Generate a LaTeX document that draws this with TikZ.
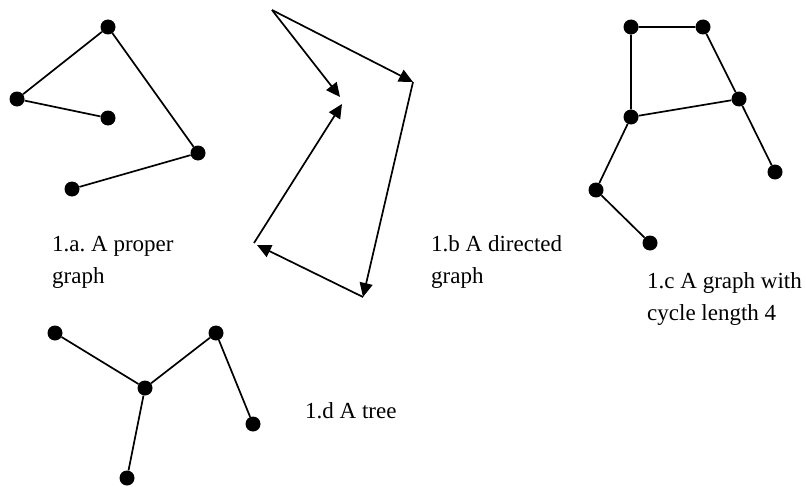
\documentclass[tikz,border=0pt]{standalone}
\usepackage{fontspec}
\setmainfont{Liberation Serif}
\usetikzlibrary{arrows.meta}
\frenchspacing
\begin{document}
\begin{tikzpicture}[x=1pt,y=-1pt,
  dot/.style={circle,fill=black,inner sep=0pt,minimum size=15pt},
  edge/.style={line width=1.7pt},
  arc/.style={line width=1.7pt,-{Triangle[length=14pt,width=13pt]}},
  lbl/.style={anchor=base west,inner sep=0pt,align=left,font=\fontsize{23}{31.5}\selectfont\frenchspacing}]
\useasboundingbox (0,0) rectangle (806,487);
% 1.a
\node[dot] (a1) at (108,27) {};
\node[dot] (a2) at (17,99) {};
\node[dot] (a3) at (108,118) {};
\node[dot] (a4) at (198,153) {};
\node[dot] (a5) at (72,189) {};
\draw[edge] (a1) -- (a2) (a2) -- (a3) (a1) -- (a4) (a4) -- (a5);
\node[lbl] (la) at (52,283) {1.a. A proper\\graph};
% 1.b
\coordinate (bA) at (272,10);
\coordinate (bB1) at (340,97);
\coordinate (bB2) at (342,104);
\coordinate (bC) at (413,82);
\coordinate (bD) at (363,297);
\coordinate (bE) at (254,243);
\coordinate (bE2) at (257,245);
\draw[arc] (bA) -- (bB1);
\draw[arc] (bA) -- (bC);
\draw[arc] (bC) -- (bD);
\draw[arc] (bD) -- (bE2);
\draw[arc] (bE) -- (bB2);
\node[lbl] (lb) at (431,283) {1.b A directed\\graph};
% 1.c
\node[dot] (c1) at (631,27) {};
\node[dot] (c2) at (703,27) {};
\node[dot] (c3) at (739,99) {};
\node[dot] (c4) at (631,117) {};
\node[dot] (c5) at (775,172) {};
\node[dot] (c6) at (596,190) {};
\node[dot] (c7) at (650,243) {};
\draw[edge] (c1) -- (c2) (c1) -- (c4) (c2) -- (c3) (c3) -- (c4) (c3) -- (c5) (c4) -- (c6) (c6) -- (c7);
\node[lbl] (lc) at (647,320) {1.c A graph with\\cycle length 4};
% 1.d
\node[dot] (d1) at (55,333) {};
\node[dot] (d2) at (145,388) {};
\node[dot] (d3) at (216,333) {};
\node[dot] (d4) at (253,424) {};
\node[dot] (d5) at (127,478) {};
\draw[edge] (d1) -- (d2) (d2) -- (d3) (d3) -- (d4) (d2) -- (d5);
\node[lbl] (ld) at (305,418) {1.d A tree};
\end{tikzpicture}
\end{document}
